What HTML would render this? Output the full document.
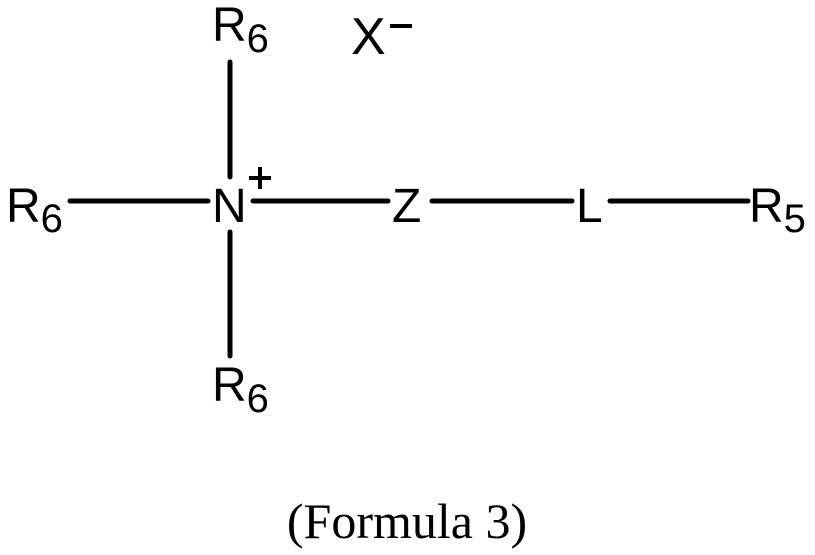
<!DOCTYPE html>
<html><head><style>body{margin:0;background:#fff}svg{display:block}</style></head><body>
<svg width="815" height="555" viewBox="0 0 815 555" xmlns="http://www.w3.org/2000/svg">
<g stroke="#000" stroke-width="5" stroke-linecap="round">
<line x1="230" y1="62" x2="230" y2="177"/>
<line x1="230" y1="232" x2="230" y2="356"/>
<line x1="70" y1="201" x2="208" y2="201"/>
<line x1="253" y1="201" x2="388" y2="201"/>
<line x1="432" y1="201" x2="572" y2="201"/>
<line x1="610" y1="201" x2="748" y2="201"/>
<line x1="390" y1="26" x2="412" y2="26" stroke-width="4" stroke-linecap="butt"/>
<line x1="249" y1="178" x2="271" y2="178" stroke-width="4" stroke-linecap="butt"/>
<line x1="260" y1="167" x2="260" y2="189" stroke-width="4" stroke-linecap="butt"/>
</g>
<g font-family="Liberation Sans, sans-serif" font-size="48" fill="#000">
<text x="212" y="41">R<tspan font-size="40" dy="11">6</tspan></text>
<text x="351" y="54" font-size="52">X</text>
<text x="6" y="222">R<tspan font-size="40" dy="10">6</tspan></text>
<text x="212" y="222">N</text>
<text x="392" y="222">Z</text>
<text x="576" y="222">L</text>
<text x="749" y="222">R<tspan font-size="40" dy="10">5</tspan></text>
<text x="212" y="401">R<tspan font-size="40" dy="11">6</tspan></text>
</g>
<text x="407" y="538" text-anchor="middle" font-family="Liberation Serif, serif" font-size="50">(Formula 3)</text>
</svg>
</body></html>
